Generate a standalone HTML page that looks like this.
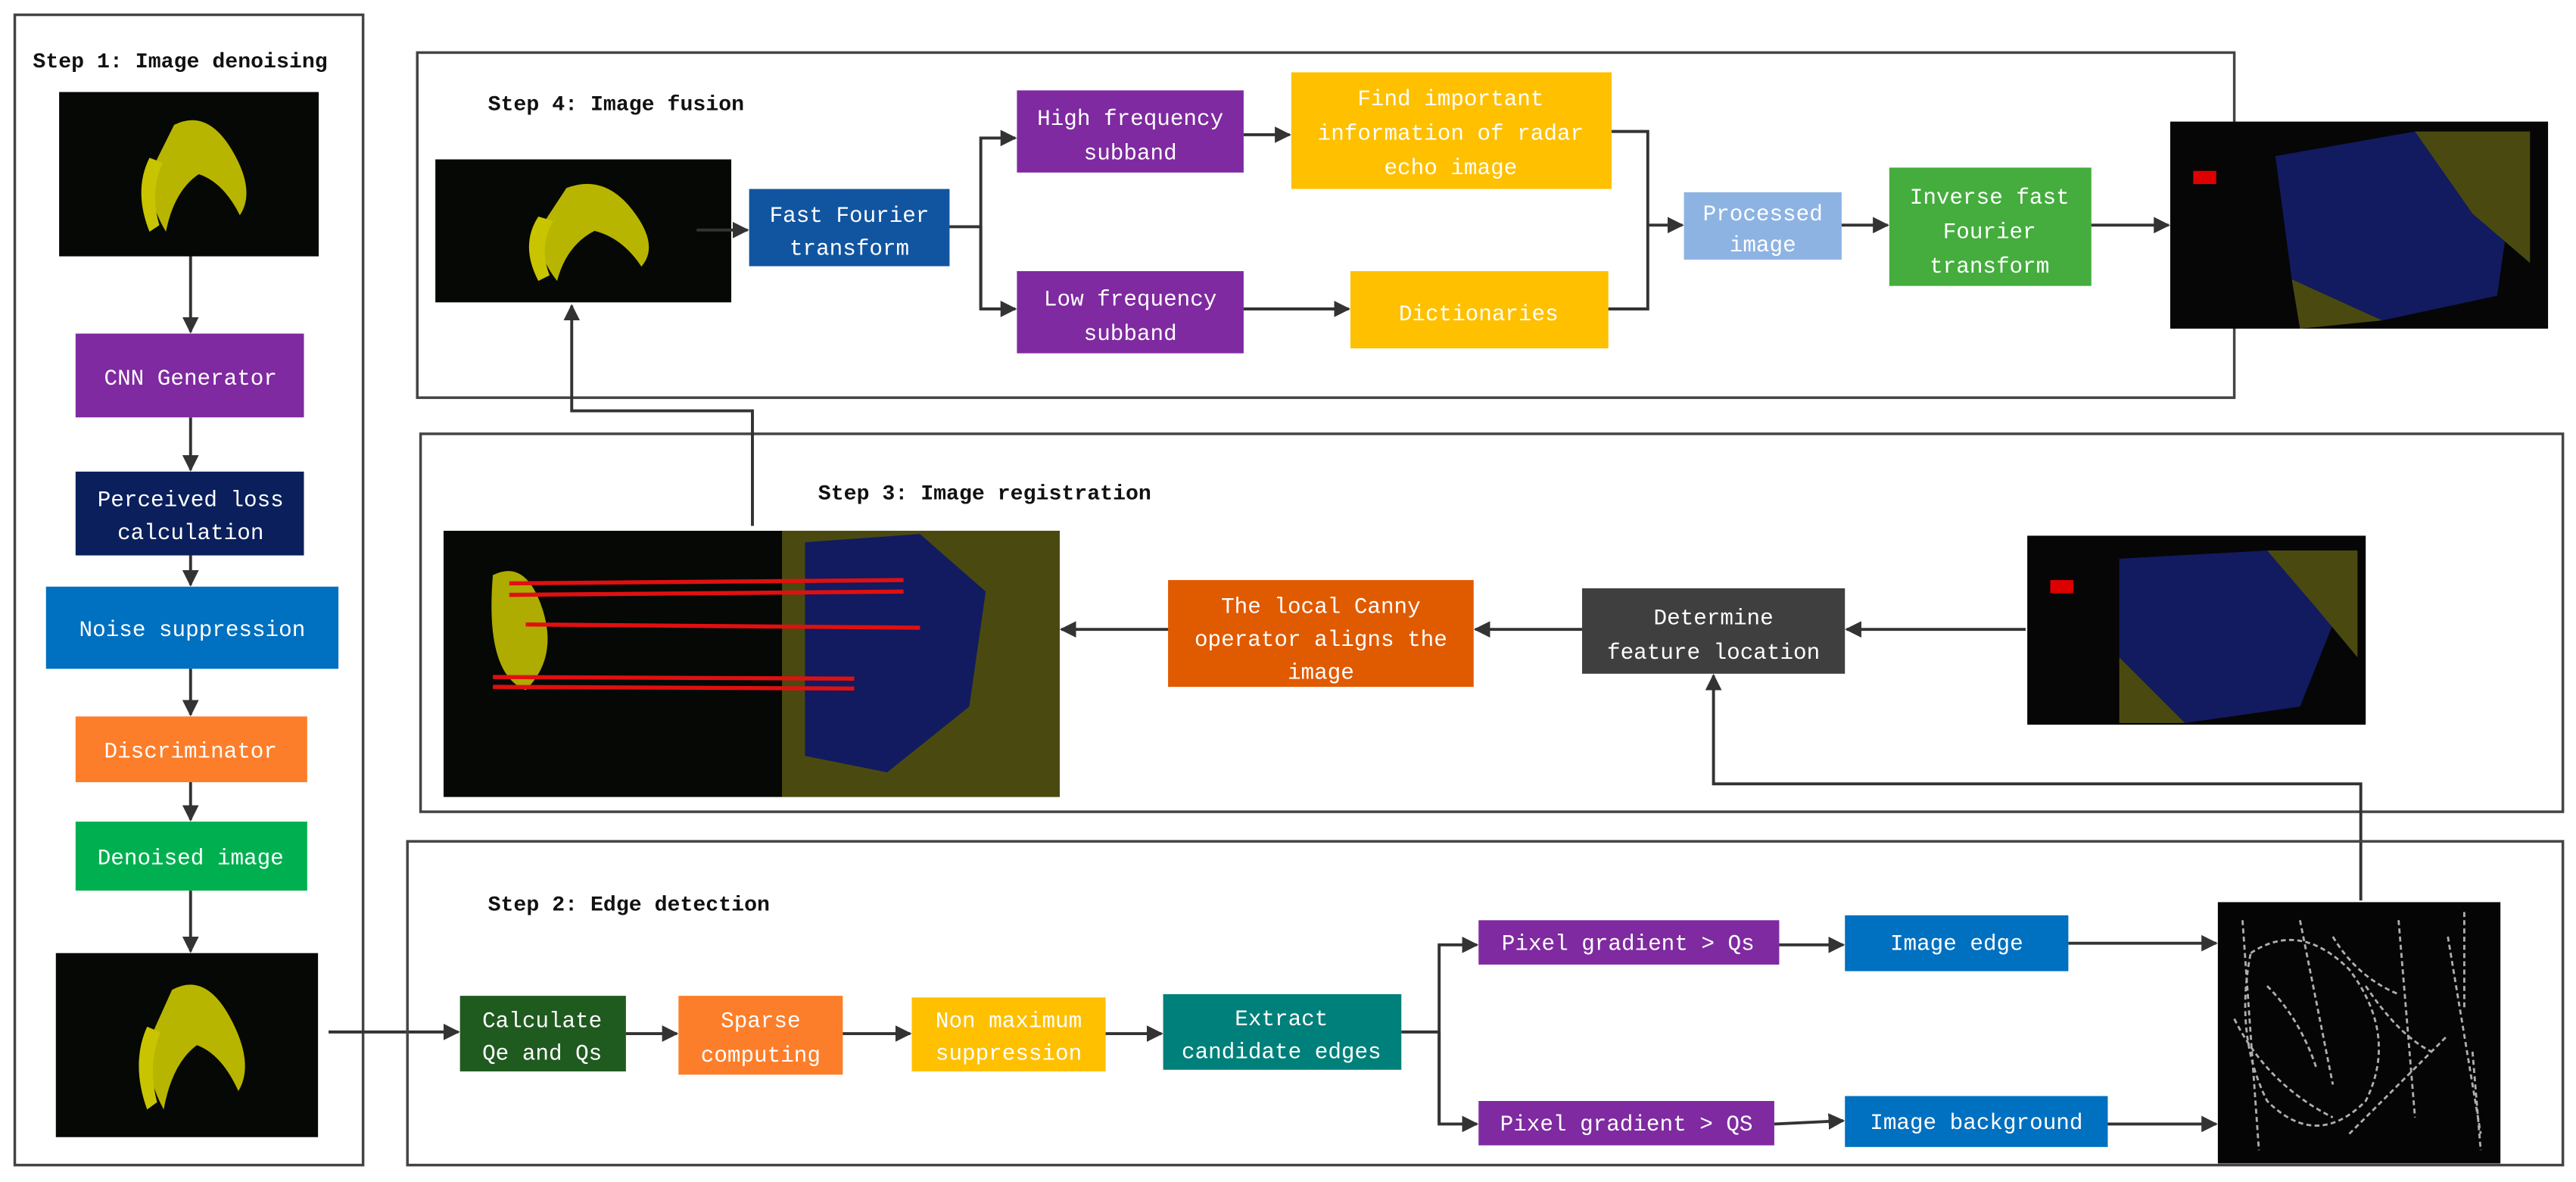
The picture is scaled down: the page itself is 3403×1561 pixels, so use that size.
<!DOCTYPE html>
<html><head><meta charset="utf-8"><style>
html,body{margin:0;padding:0;background:#fff;}
svg{display:block;}
text{font-family:"Liberation Mono","WenQuanYi Zen Hei",monospace;}
.w{fill:#fff;font-size:13.5px;text-anchor:middle;}
.t{fill:#111;font-size:13px;font-weight:bold;}
.ln{stroke:#333;stroke-width:1.8;fill:none;}
.fr{stroke:#444;stroke-width:1.6;fill:none;}
</style></head><body>
<svg width="3403" height="1561" viewBox="0 0 1568 719.3" preserveAspectRatio="none" xmlns="http://www.w3.org/2000/svg">
<defs>
<marker id="a" markerWidth="10" markerHeight="10" refX="9" refY="5" orient="auto" markerUnits="userSpaceOnUse"><path d="M0,0 L10,5 L0,10 z" fill="#333"/></marker>
<g id="r1">
<rect width="158" height="100" fill="#050805"/>
<path d="M70 20 q20 -10 35 15 q15 25 5 40 q-10 -20 -25 -25 q-15 10 -20 35 q-15 -25 -5 -45z" fill="#d8d400" opacity=".85"/>
<path d="M55 40 q-10 20 0 45 l6 -4 q-6 -20 2 -38z" fill="#c8c400"/>
</g>
</defs>

<!-- Step 1 -->
<rect x="9" y="9" width="212" height="700" class="fr"/>
<text x="20" y="41" class="t">Step 1: Image denoising</text>
<use href="#r1" x="36" y="56"/>
<rect x="46" y="203" width="139" height="51" fill="#7f2aa0"/><text x="116" y="234" class="w">CNN Generator</text>
<rect x="46" y="287" width="139" height="51" fill="#0a1f5c"/><text x="116" y="308" class="w">Perceived loss</text><text x="116" y="328" class="w">calculation</text>
<rect x="28" y="357" width="178" height="50" fill="#0070c0"/><text x="117" y="387" class="w">Noise suppression</text>
<rect x="46" y="436" width="141" height="40" fill="#fd7e2a"/><text x="116" y="461" class="w">Discriminator</text>
<rect x="46" y="500" width="141" height="42" fill="#00b050"/><text x="116" y="526" class="w">Denoised image</text>
<use href="#r1" x="34" y="580" transform="translate(34 580) scale(1.01 1.12) translate(-34 -580)"/>
<line x1="116" y1="156" x2="116" y2="202" class="ln" marker-end="url(#a)"/>
<line x1="116" y1="254" x2="116" y2="286" class="ln" marker-end="url(#a)"/>
<line x1="116" y1="338" x2="116" y2="356" class="ln" marker-end="url(#a)"/>
<line x1="116" y1="407" x2="116" y2="435" class="ln" marker-end="url(#a)"/>
<line x1="116" y1="476" x2="116" y2="499" class="ln" marker-end="url(#a)"/>
<line x1="116" y1="542" x2="116" y2="579" class="ln" marker-end="url(#a)"/>
<line x1="200" y1="628" x2="279" y2="628" class="ln" marker-end="url(#a)"/>

<!-- Step 4 -->
<rect x="254" y="32" width="1106" height="210" class="fr"/>
<text x="297" y="67" class="t">Step 4: Image fusion</text>
<use href="#r1" x="265" y="97" transform="translate(265 97) scale(1.14 0.87) translate(-265 -97)"/>
<rect x="456" y="115" width="122" height="47" fill="#1155a0"/><text x="517" y="135" class="w">Fast Fourier</text><text x="517" y="155" class="w">transform</text>
<rect x="619" y="55" width="138" height="50" fill="#7f2aa0"/><text x="688" y="76" class="w">High frequency</text><text x="688" y="97" class="w">subband</text>
<rect x="786" y="44" width="195" height="71" fill="#ffc000"/><text x="883" y="64" class="w">Find important</text><text x="883" y="85" class="w">information of radar</text><text x="883" y="106" class="w">echo image</text>
<rect x="619" y="165" width="138" height="50" fill="#7f2aa0"/><text x="688" y="186" class="w">Low frequency</text><text x="688" y="207" class="w">subband</text>
<rect x="822" y="165" width="157" height="47" fill="#ffc000"/><text x="900" y="195" class="w">Dictionaries</text>
<rect x="1025" y="117" width="96" height="41" fill="#8db3e2"/><text x="1073" y="134" class="w">Processed</text><text x="1073" y="153" class="w">image</text>
<rect x="1150" y="102" width="123" height="72" fill="#44ad3d"/><text x="1211" y="124" class="w">Inverse fast</text><text x="1211" y="145" class="w">Fourier</text><text x="1211" y="166" class="w">transform</text>
<rect x="1321" y="74" width="230" height="126" fill="#060606"/>
<path d="M1385 95 L1470 80 L1530 110 L1520 180 L1450 195 L1395 170z" fill="#121a60"/>
<path d="M1470 80 L1540 80 L1540 160 L1505 130z M1395 170 L1450 195 L1400 200z" fill="#4a4a10"/>
<rect x="1335" y="104" width="14" height="8" fill="#d00"/>
<polyline points="578,138 597,138" class="ln"/>
<polyline points="597,188 597,84 618,84" class="ln" marker-end="url(#a)"/>
<polyline points="597,138 597,188 618,188" class="ln" marker-end="url(#a)"/>
<line x1="757" y1="82" x2="785" y2="82" class="ln" marker-end="url(#a)"/>
<line x1="757" y1="188" x2="821" y2="188" class="ln" marker-end="url(#a)"/>
<polyline points="981,80 1003,80 1003,188 979,188" class="ln"/>
<line x1="1003" y1="137" x2="1024" y2="137" class="ln" marker-end="url(#a)"/>
<line x1="1121" y1="137" x2="1149" y2="137" class="ln" marker-end="url(#a)"/>
<line x1="1273" y1="137" x2="1320" y2="137" class="ln" marker-end="url(#a)"/>
<line x1="424" y1="140" x2="455" y2="140" class="ln" marker-end="url(#a)"/>

<!-- Step 3 -->
<rect x="256" y="264" width="1304" height="230" class="fr"/>
<text x="498" y="304" class="t">Step 3: Image registration</text>
<rect x="270" y="323" width="375" height="162" fill="#050805"/>
<rect x="476" y="323" width="169" height="162" fill="#4a4a10"/>
<path d="M490 330 L560 325 L600 360 L590 430 L540 470 L490 460z" fill="#121a60"/>
<path d="M300 350 q20 -10 30 20 q10 30 -10 50 q-25 -10 -20 -70z" fill="#d8d400" opacity=".8"/>
<g stroke="#e01010" stroke-width="2.5"><line x1="310" y1="355" x2="550" y2="353"/><line x1="310" y1="362" x2="550" y2="360"/><line x1="320" y1="380" x2="560" y2="382"/><line x1="300" y1="412" x2="520" y2="413"/><line x1="300" y1="418" x2="520" y2="419"/></g>
<rect x="711" y="353" width="186" height="65" fill="#e05a00"/><text x="804" y="373" class="w">The local Canny</text><text x="804" y="393" class="w">operator aligns the</text><text x="804" y="413" class="w">image</text>
<rect x="963" y="358" width="160" height="52" fill="#3f3f3f"/><text x="1043" y="380" class="w">Determine</text><text x="1043" y="401" class="w">feature location</text>
<rect x="1234" y="326" width="206" height="115" fill="#060606"/>
<path d="M1290 340 L1380 335 L1420 380 L1400 430 L1330 440 L1290 400z" fill="#121a60"/>
<path d="M1380 335 L1435 335 L1435 400 L1410 370z M1290 400 L1330 440 L1290 440z" fill="#4a4a10"/>
<rect x="1248" y="353" width="14" height="8" fill="#d00"/>
<line x1="1233" y1="383" x2="1124" y2="383" class="ln" marker-end="url(#a)"/>
<line x1="963" y1="383" x2="898" y2="383" class="ln" marker-end="url(#a)"/>
<line x1="711" y1="383" x2="646" y2="383" class="ln" marker-end="url(#a)"/>
<polyline points="458,320 458,250 348,250 348,186" class="ln" marker-end="url(#a)"/>
<polyline points="1437,548 1437,477 1043,477 1043,411" class="ln" marker-end="url(#a)"/>

<!-- Step 2 -->
<rect x="248" y="512" width="1312" height="197" class="fr"/>
<text x="297" y="554" class="t">Step 2: Edge detection</text>
<rect x="280" y="606" width="101" height="46" fill="#1f5a1f"/><text x="330" y="625" class="w">Calculate</text><text x="330" y="645" class="w">Qe and Qs</text>
<rect x="413" y="606" width="100" height="48" fill="#fd7e2a"/><text x="463" y="625" class="w">Sparse</text><text x="463" y="646" class="w">computing</text>
<rect x="555" y="607" width="118" height="45" fill="#ffc000"/><text x="614" y="625" class="w">Non maximum</text><text x="614" y="645" class="w">suppression</text>
<rect x="708" y="605" width="145" height="46" fill="#00807a"/><text x="780" y="624" class="w">Extract</text><text x="780" y="644" class="w">candidate edges</text>
<rect x="900" y="560" width="183" height="27" fill="#7f2aa0"/><text x="991" y="578" class="w">Pixel gradient &gt; Qs</text>
<rect x="1123" y="557" width="136" height="34" fill="#0070c0"/><text x="1191" y="578" class="w">Image edge</text>
<rect x="900" y="670" width="180" height="27" fill="#7f2aa0"/><text x="990" y="688" class="w">Pixel gradient &gt; QS</text>
<rect x="1123" y="667" width="160" height="31" fill="#0070c0"/><text x="1203" y="687" class="w">Image background</text>
<rect x="1350" y="549" width="172" height="159" fill="#050505"/>
<g stroke="#ccc" stroke-width="1.3" fill="none" opacity=".85" stroke-dasharray="3 2">
<path d="M1370 580 q30 -20 60 10 q30 40 10 80 q-30 30 -60 0 q-20 -40 -10 -90"/>
<path d="M1360 620 q20 40 60 60 M1400 560 l20 100 M1440 600 q20 30 40 40 M1460 560 l10 120 M1490 570 l20 120"/>
<path d="M1380 600 q20 20 30 50 M1420 570 q15 25 40 35 M1365 560 l10 140 M1500 555 l0 60 M1505 640 l5 60 M1430 690 q30 -30 60 -60"/>
</g>
<line x1="381" y1="629" x2="412" y2="629" class="ln" marker-end="url(#a)"/>
<line x1="513" y1="629" x2="554" y2="629" class="ln" marker-end="url(#a)"/>
<line x1="673" y1="629" x2="707" y2="629" class="ln" marker-end="url(#a)"/>
<line x1="853" y1="628" x2="876" y2="628" class="ln"/>
<polyline points="876,684 876,575 899,575" class="ln" marker-end="url(#a)"/>
<polyline points="876,628 876,684 899,684" class="ln" marker-end="url(#a)"/>
<line x1="1083" y1="575" x2="1122" y2="575" class="ln" marker-end="url(#a)"/>
<line x1="1080" y1="684" x2="1122" y2="682" class="ln" marker-end="url(#a)"/>
<line x1="1259" y1="574" x2="1349" y2="574" class="ln" marker-end="url(#a)"/>
<line x1="1283" y1="684" x2="1349" y2="684" class="ln" marker-end="url(#a)"/>
</svg>
</body></html>
